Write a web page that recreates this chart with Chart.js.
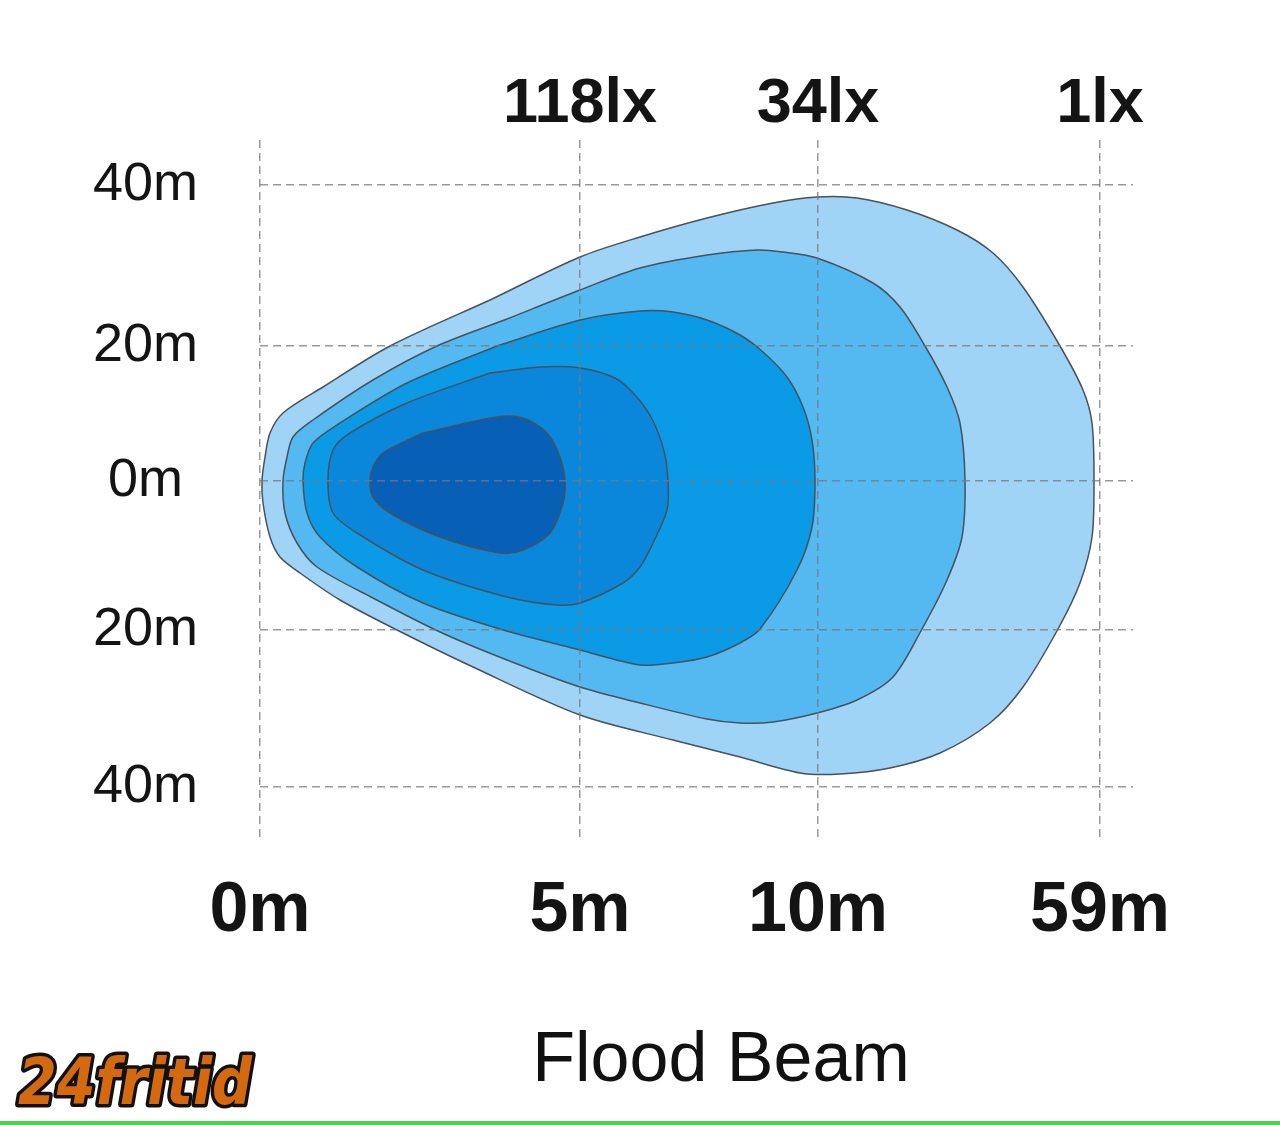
<!DOCTYPE html>
<html>
<head>
<meta charset="utf-8">
<title>Flood Beam</title>
<script src="https://cdn.jsdelivr.net/npm/chart.js@4.4.1/dist/chart.umd.min.js"></script>
<style>
    html, body { margin: 0; padding: 0; background: #fff; }
    #beamChart { display: block; }
</style>
</head>
<body>
<canvas id="beamChart" width="1280" height="1125"></canvas>
<script>
// Posisi grid (unit grafik) dan label sumbu
const xTickPos = [0, 32, 55.8, 84];
const xTickLabels = ['0m', '5m', '10m', '59m'];
const luxTickPos = [32, 55.8, 84];
const luxTickLabels = ['118lx', '34lx', '1lx'];
const yTickPos = [-30.6, -14.9, 0, 13.5, 29.6];
const yTickLabels = ['40m', '20m', '0m', '20m', '40m'];

// Kontur sorot (x, y) dari luar ke dalam
const contourOuter = [
    [23.0, 18.1], [32.0, 22.4], [38.0, 24.4], [44.7, 26.3], [51.3, 27.8], [55.7, 28.4],
    [59.7, 28.3], [64.7, 27.1], [69.7, 25.1], [73.3, 22.8], [76.3, 19.4], [80.0, 13.5],
    [82.3, 9.1], [83.2, 5.8], [83.4, 0], [83.2, -5.6], [82.0, -10.2], [79.8, -14.8],
    [76.3, -20.6], [73.0, -24.2], [68.0, -27.2], [63.0, -28.7], [58.0, -29.3], [54.0, -29.2],
    [48.0, -27.6], [41.3, -25.9], [32.0, -23.4], [21.3, -18.6], [13.7, -14.9], [8.0, -11.9],
    [4.0, -9.2], [2.0, -7.6], [1.0, -5.6], [0.3, -2.2], [0.2, 0], [0.5, 2.4],
    [1.0, 4.8], [2.3, 6.8], [6.3, 9.4], [13.0, 13.5]
];
const contourSecond = [
    [24.7, 16.2], [32.0, 19.1], [38.0, 21.3], [44.7, 22.6], [49.7, 23.1], [52.3, 22.9],
    [55.7, 22.3], [61.3, 19.8], [64.0, 17.4], [66.5, 13.5], [68.7, 9.4], [70.0, 5.8],
    [70.5, 0], [70.2, -5.6], [68.7, -9.9], [66.2, -14.8], [63.3, -19.6], [59.7, -21.9],
    [55.7, -23.2], [51.3, -24.1], [48.0, -24.2], [44.7, -23.8], [38.0, -22.2], [32.0, -20.6],
    [24.7, -17.9], [18.0, -15.1], [11.3, -11.7], [5.7, -8.6], [3.7, -6.2], [2.5, -3.2],
    [2.3, 0], [2.7, 2.4], [3.3, 4.4], [5.3, 6.1], [11.3, 10.1], [17.7, 13.5]
];
const contourThird = [
    [23.7, 13.5], [32.0, 16.1], [38.0, 17.0], [41.3, 16.9], [44.7, 16.1], [48.0, 14.6],
    [50.3, 12.9], [52.7, 10.4], [54.3, 7.4], [55.2, 4.1], [55.5, 0], [55.2, -4.6],
    [53.7, -8.9], [50.0, -14.8], [48.0, -16.2], [44.7, -17.6], [41.3, -18.2], [38.0, -18.4],
    [32.0, -16.9], [24.0, -14.8], [16.3, -12.2], [9.7, -8.6], [6.0, -5.6], [4.7, -3.2],
    [4.3, 0], [4.5, 1.8], [5.3, 3.8], [8.0, 5.8], [14.7, 9.8]
];
const contourFourth = [
    [23.0, 10.8], [28.0, 11.4], [32.0, 11.3], [35.5, 10.3], [37.5, 8.6], [39.2, 6.2],
    [40.4, 3.0], [40.8, 0], [40.7, -2.9], [39.3, -6.2], [38.0, -8.6], [36.3, -10.2],
    [32.0, -12.2], [29.7, -12.4], [24.7, -11.6], [16.3, -8.9], [9.7, -5.2], [7.3, -3.2],
    [6.8, 0], [7.3, 3.1], [9.0, 4.8], [14.7, 7.8]
];
const contourInner = [
    [16.3, 4.8], [23.7, 6.4], [26.3, 6.3], [28.7, 4.8], [30.0, 2.4], [30.5, 0],
    [30.3, -2.2], [29.0, -5.2], [26.3, -6.9], [24.0, -7.2], [18.0, -5.6], [13.0, -3.2],
    [11.3, -1.6], [11.0, 0], [11.3, 1.4], [12.3, 2.8]
];

const contourColors = ['#9fd4f6', '#55b9f1', '#0b9ae6', '#0a87da', '#075fb6'];
const FONT = '"Liberation Sans", Arial, sans-serif';

// ubah [x, y] jadi titik tertutup
function toLoop(list) {
    const pts = list.map(p => ({ x: p[0], y: p[1] }));
    pts.push({ x: list[0][0], y: list[0][1] });
    return pts;
}

function makeSet(label, list, color) {
    return {
        label: label,
        data: toLoop(list),
        showLine: true,
        fill: 'shape',
        backgroundColor: color,
        borderColor: '#46525c',
        borderWidth: 1.5,
        tension: 0.3,
        pointRadius: 0
    };
}

// judul, logo dan garis hijau bawah
const extrasPlugin = {
    id: 'extras',
    afterDraw(chart) {
        const ctx = chart.ctx;
        ctx.save();
        ctx.fillStyle = '#111';
        ctx.font = '70px ' + FONT;
        ctx.textAlign = 'center';
        ctx.textBaseline = 'middle';
        ctx.fillText('Flood Beam', 721, 1062);

        // logo
        ctx.font = 'italic bold 64px "DejaVu Sans Condensed", "DejaVu Sans", sans-serif';
        ctx.textAlign = 'left';
        ctx.textBaseline = 'alphabetic';
        const w = ctx.measureText('24fritid').width;
        ctx.translate(18, 1104);
        ctx.scale(234 / w, 1);
        ctx.lineJoin = 'round';
        ctx.lineWidth = 7;
        ctx.strokeStyle = '#111';
        ctx.strokeText('24fritid', 0, 0);
        ctx.fillStyle = '#d4690f';
        ctx.fillText('24fritid', 0, 0);
        ctx.restore();

        ctx.save();
        ctx.fillStyle = '#4fd04f';
        ctx.fillRect(0, 1121, 1280, 4);
        ctx.restore();
    }
};

const gridStyle = {
    color: 'rgba(120, 120, 120, 0.75)',
    lineWidth: 1.5,
    drawTicks: false,
    z: 1
};

new Chart(document.getElementById('beamChart'), {
    type: 'scatter',
    data: {
        datasets: [
            makeSet('inner', contourInner, contourColors[4]),
            makeSet('fourth', contourFourth, contourColors[3]),
            makeSet('third', contourThird, contourColors[2]),
            makeSet('second', contourSecond, contourColors[1]),
            makeSet('outer', contourOuter, contourColors[0])
        ]
    },
    options: {
        responsive: false,
        animation: false,
        events: [],
        layout: { padding: { left: 0, right: 147, top: 0, bottom: 0 } },
        plugins: {
            legend: { display: false },
            tooltip: { enabled: false },
            title: { display: false }
        },
        scales: {
            x: {
                type: 'linear',
                position: 'bottom',
                min: 0,
                max: 87.3,
                afterBuildTicks: s => { s.ticks = xTickPos.map(v => ({ value: v })); },
                afterFit: s => { s.height = 285; },
                ticks: {
                    autoSkip: false,
                    maxRotation: 0,
                    padding: 30,
                    color: '#141414',
                    font: { family: FONT, size: 70, weight: 'bold' },
                    callback: (v, i) => xTickLabels[i]
                },
                grid: gridStyle,
                border: { display: false, dash: [8, 5] }
            },
            lux: {
                type: 'linear',
                position: 'top',
                min: 0,
                max: 87.3,
                afterBuildTicks: s => { s.ticks = luxTickPos.map(v => ({ value: v })); },
                afterFit: s => { s.height = 140; },
                ticks: {
                    autoSkip: false,
                    maxRotation: 0,
                    padding: -10,
                    color: '#141414',
                    font: { family: FONT, size: 63, weight: 'bold' },
                    callback: (v, i) => luxTickLabels[i]
                },
                grid: { display: false },
                border: { display: false }
            },
            y: {
                type: 'linear',
                position: 'left',
                min: -35.9,
                max: 34.1,
                afterBuildTicks: s => { s.ticks = yTickPos.map(v => ({ value: v })); },
                afterFit: s => { s.width = 260; },
                ticks: {
                    autoSkip: false,
                    padding: 62,
                    crossAlign: 'center',
                    color: '#141414',
                    font: { family: FONT, size: 54 },
                    callback: (v, i) => yTickLabels[i]
                },
                grid: gridStyle,
                border: { display: false, dash: [8, 5] }
            }
        }
    },
    plugins: [extrasPlugin]
});
</script>
</body>
</html>
